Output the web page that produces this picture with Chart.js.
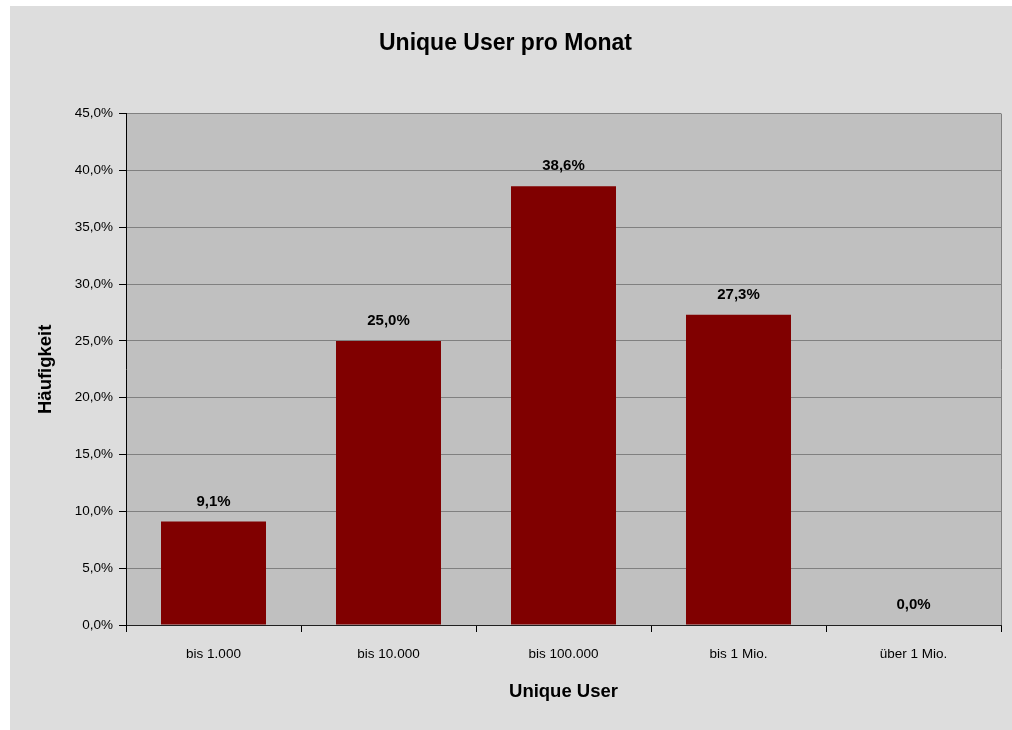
<!DOCTYPE html>
<html>
<head>
<meta charset="utf-8">
<script src="https://cdn.jsdelivr.net/npm/chart.js@4"></script>
<style>
  body { margin: 0; background: #ffffff; }
  #box { position: absolute; left: 10px; top: 6px; width: 1002px; height: 724px; }
</style>
</head>
<body>
<div id="box"><canvas id="bar-chart"></canvas></div>
<script>
const categories = ["bis 1.000", "bis 10.000", "bis 100.000", "bis 1 Mio.", "über 1 Mio."];
const values = [9.1, 25.0, 38.6, 27.3, 0.0];
const yTicks = [0, 5, 10, 15, 20, 25, 30, 35, 40, 45];

const FONT = "'Liberation Sans', Arial, sans-serif";

function fmt(v) {
    return v.toFixed(1).replace(".", ",") + "%";
}

// gray background, plot area, labels over bars
const excelLook = {
    id: "excelLook",
    beforeDraw(chart) {
        const ctx = chart.ctx;
        const a = chart.chartArea;
        ctx.save();
        ctx.fillStyle = "#dddddd";
        ctx.fillRect(0, 0, chart.width, chart.height);
        ctx.fillStyle = "#c0c0c0";
        ctx.fillRect(a.left, a.top, a.right - a.left, a.bottom - a.top);
        ctx.restore();
    },
    afterDraw(chart) {
        const ctx = chart.ctx;
        const a = chart.chartArea;
        ctx.save();
        ctx.strokeStyle = "#808080";
        ctx.lineWidth = 1;
        ctx.beginPath();
        ctx.moveTo(Math.round(a.right) + 0.5, a.top);
        ctx.lineTo(Math.round(a.right) + 0.5, a.bottom);
        ctx.stroke();

        const meta = chart.getDatasetMeta(0);
        ctx.fillStyle = "#000000";
        ctx.font = "bold 15px " + FONT;
        ctx.textAlign = "center";
        ctx.textBaseline = "middle";
        meta.data.forEach(function (bar, i) {
            ctx.fillText(fmt(values[i]), bar.x, bar.y - 20);
        });
        ctx.restore();
    }
};

new Chart(document.getElementById("bar-chart"), {
    type: "bar",
    data: {
        labels: categories,
        datasets: [
            {
                label: "Häufigkeit",
                data: values,
                backgroundColor: "#800000",
                borderWidth: 0,
                categoryPercentage: 1.0,
                barPercentage: 0.6
            }
        ]
    },
    options: {
        responsive: true,
        maintainAspectRatio: false,
        animation: false,
        layout: { padding: { left: 0, right: 11, top: 0, bottom: 0 } },
        plugins: {
            legend: { display: false },
            tooltip: { enabled: false },
            title: {
                display: true,
                text: "Unique User pro Monat",
                color: "#000000",
                font: { family: FONT, size: 23, weight: "bold", lineHeight: 1.2 },
                padding: { top: 24, bottom: 56 }
            }
        },
        scales: {
            x: {
                grid: {
                    offset: true,
                    drawOnChartArea: false,
                    drawTicks: true,
                    tickLength: 7,
                    tickColor: "#000000"
                },
                border: { display: true, color: "#202020", width: 1 },
                ticks: {
                    color: "#000000",
                    font: { family: FONT, size: 13.5 },
                    padding: 14
                },
                title: {
                    display: true,
                    text: "Unique User",
                    color: "#000000",
                    font: { family: FONT, size: 18.5, weight: "bold", lineHeight: 1.2 },
                    padding: { top: 0, bottom: 27 }
                },
                afterFit(scale) { scale.height = 105; }
            },
            y: {
                min: 0,
                max: 45,
                afterBuildTicks(scale) {
                    scale.ticks = yTicks.map(function (v) { return { value: v }; });
                },
                grid: {
                    color: "#808080",
                    lineWidth: 1,
                    drawTicks: true,
                    tickLength: 7,
                    tickColor: "#000000"
                },
                border: { display: true, color: "#000000", width: 1 },
                ticks: {
                    color: "#000000",
                    font: { family: FONT, size: 13.5 },
                    padding: 6,
                    callback: function (v) { return fmt(v); }
                },
                title: {
                    display: true,
                    text: "Häufigkeit",
                    color: "#000000",
                    font: { family: FONT, size: 18.5, weight: "bold", lineHeight: 1.2 },
                    padding: { top: 25, bottom: 0 }
                },
                afterFit(scale) { scale.width = 116; }
            }
        }
    },
    plugins: [excelLook]
});
</script>
</body>
</html>
